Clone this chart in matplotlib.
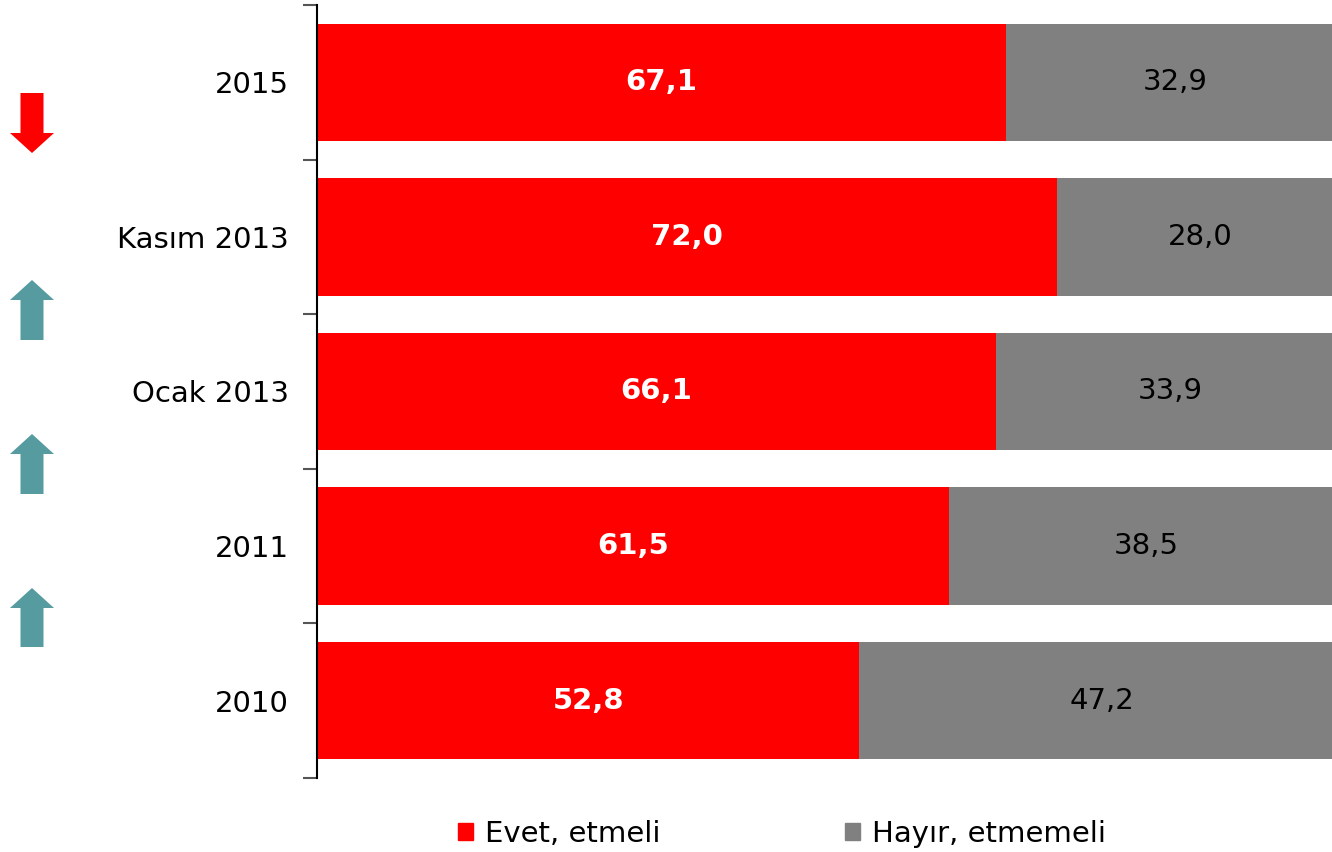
import matplotlib.pyplot as plt
from matplotlib.patches import Polygon
from matplotlib.patches import Patch

# Veriler (alttan üste)
kategoriler = ["2010", "2011", "Ocak 2013", "Kasım 2013", "2015"]
evet = [52.8, 61.5, 66.1, 72.0, 67.1]
hayir = [47.2, 38.5, 33.9, 28.0, 32.9]

kirmizi = "#FF0000"
gri = "#808080"
teal = "#559BA0"

plt.rcParams['font.family'] = ['DejaVu Sans']

fig = plt.figure(figsize=(13.32, 8.52), dpi=100)
ax = fig.add_axes([317 / 1332, 0.0869, 1 - 317 / 1332, 0.9072])

y = range(len(kategoriler))
ax.barh(y, evet, height=0.76, color=kirmizi)
ax.barh(y, hayir, left=evet, height=0.76, color=gri)

for i, (e, h) in enumerate(zip(evet, hayir)):
    ax.text(e / 2, i, f"{e:.1f}".replace(".", ","), ha="center", va="center",
            color="white", fontsize=21, fontweight="bold")
    ax.text(e + h / 2, i, f"{h:.1f}".replace(".", ","), ha="center", va="center",
            color="black", fontsize=21)

# sağ kenar %100'ün biraz altında kesiliyor
ax.set_xlim(0, 98.8)
ax.set_ylim(-0.5, len(kategoriler) - 0.5)
ax.set_yticks(list(y))
ax.set_yticklabels(kategoriler, fontsize=21)
ax.set_yticks([i - 0.5 for i in range(len(kategoriler) + 1)], minor=True)
ax.tick_params(axis="y", which="major", length=0, pad=20)
ax.tick_params(axis="y", which="minor", length=10, width=1.5, color="#555555")
ax.set_xticks([])
for s in ["top", "right", "bottom"]:
    ax.spines[s].set_visible(False)
ax.spines["left"].set_linewidth(1.5)


# Soldaki değişim okları (piksel koordinatlarında)
def ok(xc, y_bas, y_uc, renk):
    W, H = 1332, 852
    yon = 1 if y_uc > y_bas else -1
    govde = 11.5
    bas = 22
    bas_boy = 20
    y_boyun = y_uc - yon * bas_boy
    pts = [(xc - govde, y_bas), (xc + govde, y_bas), (xc + govde, y_boyun),
           (xc + bas, y_boyun), (xc, y_uc), (xc - bas, y_boyun),
           (xc - govde, y_boyun)]
    pts = [(px / W, 1 - py / H) for px, py in pts]
    fig.patches.append(Polygon(pts, closed=True, facecolor=renk,
                               edgecolor="none", transform=fig.transFigure))


ok(32, 93, 153, kirmizi)
ok(32, 340, 280, teal)
ok(32, 494, 434, teal)
ok(32, 647, 588, teal)

fig.legend(handles=[Patch(color=kirmizi, label="Evet, etmeli"),
                    Patch(color=gri, label="Hayır, etmemeli")],
           loc="center", bbox_to_anchor=(782 / 1332, 1 - 834 / 852), ncol=2,
           frameon=False, fontsize=21, handlelength=0.5, handleheight=0.5,
           handletextpad=0.4, columnspacing=6.35)

fig.savefig("out.png", dpi=100)
